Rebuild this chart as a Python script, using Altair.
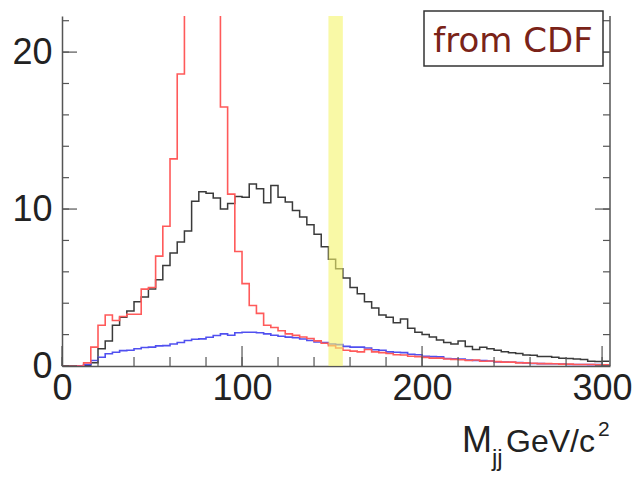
import altair as alt
import pandas as pd

# ---------------- data ----------------
BIN = 4  # GeV per bin, bins start at 0
black = [0, 0, 0, 0.05, 0.2, 1.1, 1.6, 2.6, 3.1, 3.5,
         4.1, 4.4, 4.9, 5.5, 6.4, 7.2, 7.9, 8.6, 10.5, 11.1,
         11.0, 10.7, 10.0, 10.35, 10.8, 10.75, 11.6, 11.3, 10.4, 11.5,
         10.75, 10.45, 9.9, 9.5, 9.0, 8.4, 7.6, 6.8, 6.2, 5.6,
         5.0, 4.6, 4.1, 3.7, 3.25, 3.1, 2.75, 3.0, 2.4, 2.15,
         2.0, 1.85, 1.65, 1.5, 1.4, 1.6, 1.25, 1.05, 1.2, 1.1,
         1.0, 0.9, 0.85, 0.8, 0.7, 0.68, 0.6, 0.6, 0.55, 0.5,
         0.48, 0.45, 0.42, 0.3, 0.28, 0.3]
red = [0, 0, 0, 0.2, 1.2, 2.6, 3.25, 2.9, 3.15, 3.3,
       3.3, 4.9, 5.0, 7.0, 8.9, 13.2, 18.6, 27, 33, 36,
       34, 27, 16.5, 10.95, 7.3, 5.25, 3.85, 3.35, 2.6, 2.45,
       2.25, 2.05, 1.95, 1.85, 1.75, 1.6, 1.45, 1.3, 1.15, 1.0,
       0.95, 0.9, 1.05, 0.9, 0.85, 0.8, 0.72, 0.7, 0.62, 0.6,
       0.55, 0.5, 0.5, 0.45, 0.42, 0.4, 0.35, 0.38, 0.3, 0.32,
       0.28, 0.25, 0.25, 0.2, 0.2, 0.18, 0.15, 0.15, 0.14, 0.12,
       0.12, 0.1, 0.1, 0.1, 0.08, 0.08]
blue = [0, 0, 0, 0.1, 0.35, 0.56, 0.78, 0.88, 0.98, 1.0,
        1.1, 1.18, 1.2, 1.28, 1.3, 1.4, 1.5, 1.62, 1.7, 1.73,
        1.83, 1.94, 2.05, 1.96, 2.12, 2.15, 2.15, 2.12, 2.05, 1.96,
        1.9, 1.84, 1.8, 1.72, 1.62, 1.53, 1.5, 1.4, 1.36, 1.25,
        1.2, 1.2, 1.15, 1.04, 1.0, 0.9, 0.88, 0.85, 0.75, 0.72,
        0.62, 0.6, 0.58, 0.48, 0.46, 0.44, 0.38, 0.35, 0.34, 0.32,
        0.26, 0.25, 0.24, 0.22, 0.2, 0.16, 0.15, 0.14, 0.14, 0.12,
        0.1, 0.1, 0.1, 0.09, 0.09, 0.08]
x_major = [0, 100, 200, 300]
x_minor = list(range(0, 301, 20))
y_major = [0, 10, 20]
y_minor = list(range(0, 23, 2))
band_lo, band_hi = [148], [156]
legend_text = "from CDF"

# ---------------- layout ----------------
W, H = 548, 350
XMAX, YMAX = 304.4, 22.3
FONT = "Liberation Sans Narrow, Liberation Sans, Arial, sans-serif"


def steps(vals, name):
    xs = [i * BIN for i in range(len(vals))] + [len(vals) * BIN]
    ys = list(vals) + [vals[-1]]
    return pd.DataFrame({"m": xs, "v": ys, "s": name})


xsc = alt.Scale(domain=[0, XMAX], nice=False, zero=False)
ysc = alt.Scale(domain=[0, YMAX], nice=False)

ax_x = alt.Axis(values=x_major, ticks=False, grid=False, title=None,
                labelFontSize=36, labelFont=FONT, labelPadding=5,
                labelColor="#222222", domainColor="#555555", domainWidth=1.5,
                format="d", labelFlush=False, labelOverlap=False)
ax_y = alt.Axis(values=y_major, ticks=False, grid=False, title=None,
                labelFontSize=36, labelFont=FONT, labelPadding=10,
                labelColor="#222222", domainColor="#555555", domainWidth=1.5,
                format="d", labelFlush=False, labelOverlap=False)


def hist(vals, name, color, width):
    return alt.Chart(steps(vals, name)).mark_line(
        interpolate="step-after", clip=True, color=color, strokeWidth=width
    ).encode(
        x=alt.X("m:Q", scale=xsc, axis=ax_x),
        y=alt.Y("v:Q", scale=ysc, axis=ax_y),
    )


one = pd.DataFrame({"k": [0]})
TICK = "#555555"


def xticks(vals, length):
    return alt.Chart(pd.DataFrame({"t": vals})).mark_rule(color=TICK, strokeWidth=1.2).encode(
        x=alt.X("t:Q", scale=xsc, axis=ax_x), y=alt.value(H), y2=alt.value(H - length))


def yticks(vals, length, right=False):
    x0 = W if right else 0
    x1 = W - length if right else length
    return alt.Chart(pd.DataFrame({"t": vals})).mark_rule(color=TICK, strokeWidth=1.2).encode(
        y=alt.Y("t:Q", scale=ysc, axis=ax_y), x=alt.value(x0), x2=alt.value(x1))


frame_right = alt.Chart(one).mark_rule(color=TICK, strokeWidth=1.5).encode(
    x=alt.value(W), y=alt.value(0), y2=alt.value(H))

band = alt.Chart(pd.DataFrame({"a": band_lo, "b": band_hi})).mark_rect(
    color="#f5f56a", opacity=0.6).encode(
    x=alt.X("a:Q", scale=xsc, axis=ax_x), x2="b:Q", y=alt.value(0), y2=alt.value(H))

legend_box = alt.Chart(one).mark_rect(fill="white", stroke="#333333", strokeWidth=1.5).encode(
    x=alt.value(362), x2=alt.value(541), y=alt.value(-5), y2=alt.value(50))
legend_lbl = alt.Chart(one).mark_text(
    text=legend_text, font="DejaVu Sans", fontSize=34, color="#7a2318",
    align="center", baseline="alphabetic").encode(x=alt.value(451), y=alt.value(36))


def txt(s, x, y, size):
    return alt.Chart(one).mark_text(text=s, font=FONT, fontSize=size, color="#222222",
                                    align="left", baseline="alphabetic").encode(
        x=alt.value(x), y=alt.value(y))


title = (txt("M", 400, 436, 36) + txt("jj", 430, 450, 24)
         + txt("GeV/c", 444, 436, 32) + txt("2", 536, 420, 21))

chart = alt.layer(
    hist(black, "black", "#3a3a3a", 1.5),
    hist(blue, "blue", "#5050f0", 1.6),
    hist(red, "red", "#ff5a5a", 1.6),
    band,
    xticks(x_minor, 9), xticks(x_major, 20),
    yticks(y_minor, 7), yticks(y_major, 15),
    yticks(y_minor, 7, right=True), yticks(y_major, 15, right=True),
    frame_right,
    legend_box, legend_lbl,
    title,
).properties(
    width=W, height=H,
    padding={"left": 62, "top": 16, "right": 22, "bottom": 114},
    autosize=alt.AutoSizeParams(type="none"),
).configure_view(strokeWidth=0)

chart.save("out.html", embed_options={"renderer": "svg", "actions": False})
